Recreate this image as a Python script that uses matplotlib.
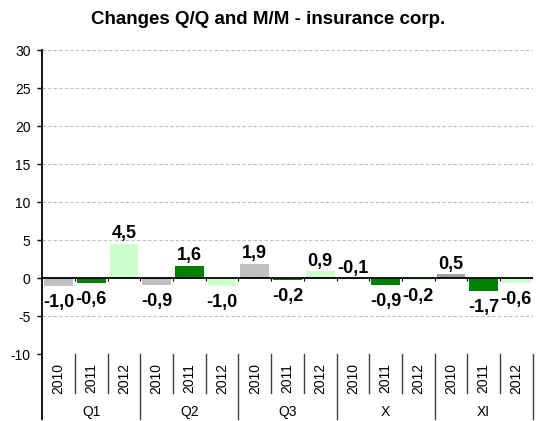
import numpy as np
import matplotlib
matplotlib.use('Agg')
import matplotlib.pyplot as plt

plt.rcParams['font.family'] = ['Liberation Sans', 'DejaVu Sans']

# data
groups = ['Q1', 'Q2', 'Q3', 'X', 'XI']
years = ['2010', '2011', '2012']
values = [
	[-1.0, -0.6, 4.5],	# Q1
	[-0.9, 1.6, -1.0],	# Q2
	[1.9, -0.2, 0.9],	# Q3
	[-0.1, -0.9, -0.2],	# X
	[0.5, -1.7, -0.6],	# XI
]
yticks = [-10, -5, 0, 5, 10, 15, 20, 25, 30]

year_colors = {'2010': '#c0c0c0', '2011': '#008000', '2012': '#ccffcc'}
# the XI 2010 bar is a darker grey in the original
special_colors = {(4, 0): '#a0a0a0'}
# X 2010 label sits above the axis in the original
label_above = {(3, 0)}

W, H = 549, 421
fig = plt.figure(figsize=(W/100, H/100), dpi=100)
left, right, top, bottom = 42.3, 532.7, 50, 354
ax = fig.add_axes([left/W, 1-bottom/H, (right-left)/W, (bottom-top)/H])
ax_h = bottom-top

n = len(groups)*len(years)
ax.set_xlim(0, n)
ax.set_ylim(-10, 30)

for gi, g in enumerate(groups):
	for yi, yr in enumerate(years):
		x = gi*len(years)+yi+0.5
		v = values[gi][yi]
		c = special_colors.get((gi, yi), year_colors[yr])
		ax.bar(x, v, width=0.88, color=c, zorder=3)
		txt = ('%.1f' % v).replace('.', ',')
		if v >= 0 or (gi, yi) in label_above:
			ax.annotate(txt, (x, max(v, 0)), xytext=(0, 1), textcoords='offset points',
						ha='center', va='bottom', fontsize=13, fontweight='bold')
		else:
			ax.annotate(txt, (x, v), xytext=(0, -6), textcoords='offset points',
						ha='center', va='top', fontsize=13, fontweight='bold')
		# year label under the plot
		ax.text(x, -24/ax_h, yr, transform=ax.get_xaxis_transform(), rotation=90,
				ha='center', va='center', fontsize=10, clip_on=False)
	ax.text(gi*len(years)+1.5, -58/ax_h, g, transform=ax.get_xaxis_transform(),
			ha='center', va='center', fontsize=10, clip_on=False)

# separators below the plot
for i in range(n+1):
	if i % len(years) == 0:
		y1 = -(H-bottom-2)/ax_h
		col = 'black' if i == 0 else '#404040'
	else:
		y1 = -(393-bottom)/ax_h
		col = '#404040'
	ax.plot([i, i], [0, y1], transform=ax.get_xaxis_transform(), color=col,
			lw=1.0 if i else 1.3, clip_on=False, zorder=4)

# small ticks on the zero line
ax.vlines(np.arange(1, n), 0, -0.45, color='black', lw=0.8, zorder=4)
ax.axhline(0, color='black', lw=1.3, zorder=4)

for yv in yticks:
	ax.axhline(yv, color='#c0c0c0', lw=0.8, ls=(0, (3, 2)), zorder=1)

ax.set_yticks(yticks)
ax.set_yticklabels([str(t) for t in yticks], fontsize=10)
ax.tick_params(axis='y', length=3.5, width=1, direction='out', pad=5)
ax.set_xticks([])
for s in ['top', 'right', 'bottom']:
	ax.spines[s].set_visible(False)
ax.spines['left'].set_linewidth(1.3)
ax.spines['left'].set_bounds(-10, 30)

fig.text(268.5/W, 1-19/H, 'Changes Q/Q and M/M - insurance corp.', ha='center', va='center',
		 fontsize=13.5, fontweight='bold')

fig.savefig('out.png', dpi=100)
